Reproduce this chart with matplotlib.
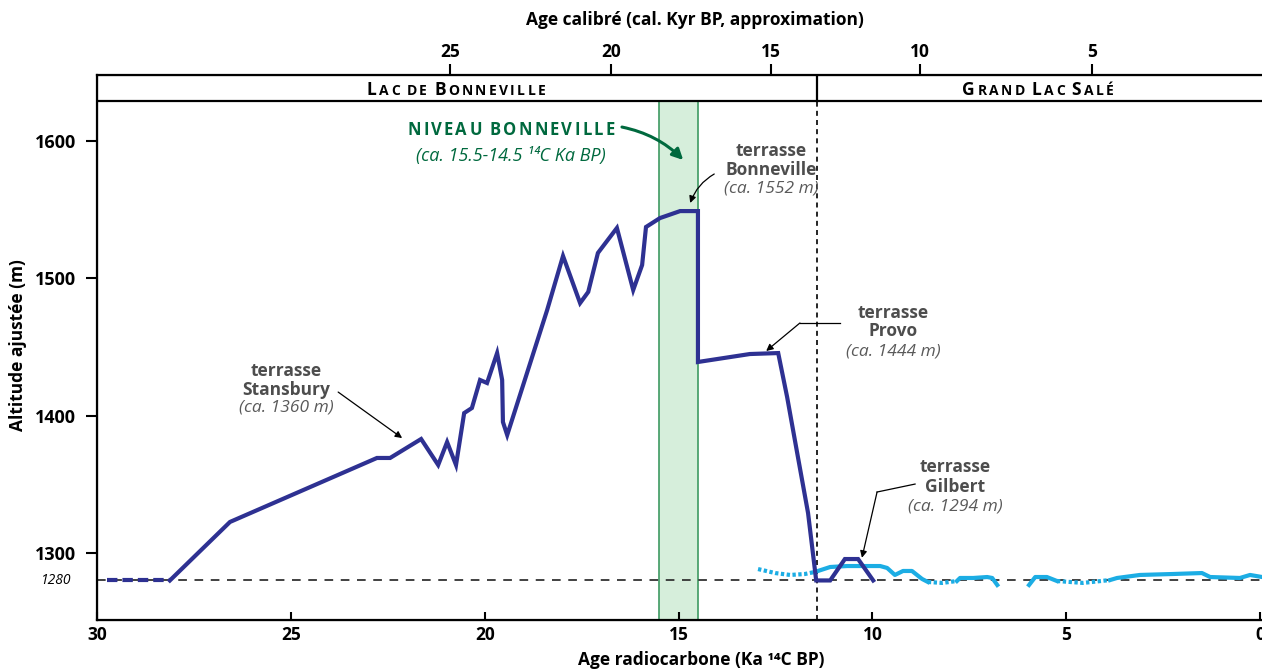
import matplotlib.pyplot as plt
from matplotlib import transforms
from matplotlib.patches import Rectangle

plt.rcParams['font.family'] = ['Open Sans', 'DejaVu Sans']

# Lake Bonneville hydrograph (ka 14C BP, adjusted altitude in m)
bonn_age = [28.12, 26.57, 22.78, 22.44, 21.64, 21.20, 20.97, 20.74, 20.53, 20.33,
            20.12, 19.94, 19.68, 19.55, 19.53, 19.42, 18.39, 17.98, 17.54, 17.33,
            17.08, 16.59, 16.17, 15.94, 15.84, 15.48, 14.96, 14.50, 14.50, 13.16,
            12.43, 12.20, 11.94, 11.66, 11.45, 11.09, 10.71, 10.37, 9.98]
bonn_alt = [1280, 1322.6, 1369.2, 1369.2, 1383.0, 1364.1, 1380.8, 1364.1, 1401.9, 1405.6,
            1426.0, 1423.8, 1445.6, 1426.0, 1395.4, 1385.9, 1476.9, 1516.3, 1482.0, 1490.1,
            1518.5, 1536.7, 1491.5, 1509.7, 1537.4, 1543.9, 1549.0, 1549.0, 1439.1, 1444.9,
            1445.6, 1413.6, 1372.8, 1329.1, 1280, 1280, 1295.6, 1295.6, 1280]
# uncertain early part
bonn_early_age = [29.74, 28.12]
bonn_early_alt = [1280, 1280]

# Great Salt Lake record: solid = documented, dotted = inferred
gsl_solid = [
    ([11.48, 11.09, 10.65, 9.80, 9.62, 9.42, 9.21, 8.98, 8.72, 8.57],
     [1286.2, 1289.8, 1290.5, 1290.5, 1289.1, 1284.0, 1286.9, 1286.9, 1281.1, 1278.9]),
    ([7.82, 7.74, 7.40, 7.04, 6.91, 6.78],
     [1279.6, 1281.8, 1281.8, 1282.5, 1281.8, 1276.7]),
    ([5.96, 5.80, 5.50, 5.24],
     [1276.7, 1282.5, 1282.5, 1279.6]),
    ([3.87, 3.69, 3.10, 2.25, 1.50, 1.29, 0.52, 0.26, -0.05],
     [1280.3, 1281.8, 1284.0, 1284.7, 1285.4, 1282.5, 1281.8, 1284.0, 1282.5]),
]
gsl_dotted = [
    ([12.95, 12.51, 12.12, 11.74, 11.48], [1288.3, 1285.4, 1284.0, 1284.7, 1286.2]),
    ([8.57, 8.20, 7.82], [1278.9, 1278.2, 1279.6]),
    ([5.24, 4.57, 3.87], [1279.6, 1278.2, 1280.3]),
]

bonneville_level = (15.5, 14.5)
transition_age = 11.43
threshold_alt = 1280

# calibrated ages (top axis) placed at their radiocarbon equivalents
cal_tick_pos = [20.89, 16.74, 12.61, 8.77, 4.33]
cal_tick_labels = ['25', '20', '15', '10', '5']

x_ticks = [30, 25, 20, 15, 10, 5, 0]
y_ticks = [1300, 1400, 1500, 1600]
y_min, y_max = 1251.2, 1648.1
header_alt = 1629.1

NAVY = '#2E3192'
CYAN = '#1CADE4'
GREEN = '#00693E'
GREY = '#4D4D4D'

fig = plt.figure(figsize=(12.62, 6.71), dpi=100)
ax = fig.add_axes([97 / 1262, 1 - 620 / 671, 1167 / 1262, 545 / 671])
ax.set_xlim(30, -0.1)
ax.set_ylim(y_min, y_max)


def tracked_text(ax, x, y, runs, tracking=1.0, **kw):
    """Draw letter-spaced text from runs of (string, size), centred on x."""
    fig = ax.figure
    renderer = fig.canvas.get_renderer()
    gap = tracking * fig.dpi / 72
    items = []
    cursor = 0.0

    def width(s, size):
        t = ax.text(0, 0, s, fontsize=size, **kw)
        w = t.get_window_extent(renderer).width
        t.remove()
        return w

    for s, size in runs:
        for word_i, word in enumerate(s.split(' ')):
            if word_i > 0:
                cursor += size * 0.35 * fig.dpi / 72
            if not word:
                continue
            for i, ch in enumerate(word):
                off = cursor + (width(word[:i], size) if i else 0.0) + i * gap
                t = ax.text(x, y, ch, fontsize=size, ha='left', va='baseline', **kw)
                items.append((t, off))
            cursor += width(word, size) + len(word) * gap
    total = cursor - gap
    for t, off in items:
        t.set_transform(transforms.offset_copy(ax.transData, fig=fig,
                                               x=off - total / 2, y=0, units='dots'))


# green band for the Bonneville highstand
ax.add_patch(Rectangle((bonneville_level[1], y_min), bonneville_level[0] - bonneville_level[1],
                       header_alt - y_min, facecolor='#D6EEDB', edgecolor='#3E9A62',
                       lw=1.2, zorder=1))

# reference lines
ax.axhline(threshold_alt, color='#333333', lw=1.3, ls=(0, (4.8, 4.2)), zorder=2)
ax.plot([transition_age, transition_age], [y_min, header_alt], color='k', lw=1.2,
        ls=(0, (3, 2.5)), zorder=2)

# header band
ax.axhline(header_alt, color='k', lw=1.6, zorder=5)
ax.plot([transition_age, transition_age], [header_alt, y_max], color='k', lw=1.6, zorder=5)
tracked_text(ax, 20.74, 1633.8, [('L', 12.5), ('AC DE ', 10), ('B', 12.5), ('ONNEVILLE', 10)],
             tracking=1.7, fontweight='bold', color='k', zorder=6)
tracked_text(ax, 5.73, 1633.8, [('G', 12.5), ('RAND ', 10), ('L', 12.5), ('AC ', 10),
                                ('S', 12.5), ('ALÉ', 10)],
             tracking=1.7, fontweight='bold', color='k', zorder=6)

# lake curves
for a, h in gsl_dotted:
    ax.plot(a, h, color=CYAN, lw=3.0, ls=(0, (0.8, 0.6)), solid_capstyle='butt', zorder=3)
for a, h in gsl_solid:
    ax.plot(a, h, color=CYAN, lw=3.0, solid_joinstyle='round', zorder=3)
ax.plot(bonn_early_age, bonn_early_alt, color=NAVY, lw=3.0, ls=(0, (2.5, 1.2)), zorder=4)
ax.plot(bonn_age, bonn_alt, color=NAVY, lw=3.0, solid_joinstyle='miter', zorder=4)

# Bonneville level label
tracked_text(ax, 19.32, 1604.7, [('NIVEAU BONNEVILLE', 12)], tracking=1.6,
             fontweight='bold', color=GREEN)
ax.text(19.32, 1589.1, '(ca. 15.5-14.5 ¹⁴C Ka BP)', fontsize=13, style='italic',
        color=GREEN, ha='center', va='center')
ax.annotate('', xy=(14.88, 1586.2), xytext=(16.46, 1610.2),
            arrowprops=dict(arrowstyle='-|>', color=GREEN, lw=2.2, mutation_scale=16,
                            connectionstyle='arc3,rad=-0.15', shrinkA=0, shrinkB=0))

# terrace labels
terraces = [
    (25.12, [1432.5, 1418.7, 1405.6], 'Stansbury', '(ca. 1360 m)'),
    (12.61, [1592.7, 1578.9, 1565.1], 'Bonneville', '(ca. 1552 m)'),
    (9.47, [1474.8, 1461.7, 1447.1], 'Provo', '(ca. 1444 m)'),
    (7.87, [1362.6, 1348.1, 1333.5], 'Gilbert', '(ca. 1294 m)'),
]
for x, ys, name, alt in terraces:
    ax.text(x, ys[0], 'terrasse', fontsize=12.5, fontweight='bold', color=GREY, ha='center', va='center')
    ax.text(x, ys[1], name, fontsize=12.5, fontweight='bold', color=GREY, ha='center', va='center')
    ax.text(x, ys[2], alt, fontsize=12.5, style='italic', color='#5A5A5A', ha='center', va='center')

arrow_kw = dict(arrowstyle='-|>', color='k', lw=0.9, mutation_scale=10, shrinkA=0, shrinkB=0)
ax.annotate('', xy=(22.13, 1383.7), xytext=(23.78, 1417.2), arrowprops=arrow_kw)
ax.annotate('', xy=(14.70, 1554.9), xytext=(14.08, 1576.0),
            arrowprops=dict(arrow_kw, connectionstyle='angle3,angleA=30,angleB=70'))
ax.plot([10.83, 11.87], [1467.5, 1467.5], color='k', lw=0.9)
ax.annotate('', xy=(12.74, 1447.1), xytext=(11.87, 1467.5), arrowprops=arrow_kw)
ax.plot([8.90, 9.88], [1350.2, 1344.4], color='k', lw=0.9)
ax.annotate('', xy=(10.27, 1296.5), xytext=(9.88, 1344.4), arrowprops=arrow_kw)

# axes styling
for side in ['left', 'bottom', 'top', 'right']:
    ax.spines[side].set_linewidth(1.6)
ax.set_xticks(x_ticks)
ax.set_xticklabels([str(v) for v in x_ticks])
ax.set_yticks(y_ticks)
ax.tick_params(axis='x', direction='in', length=6, width=1.5, labelsize=12.5, pad=4)
ax.tick_params(axis='y', direction='out', length=8, width=1.5, labelsize=13, pad=7)
for lab in ax.get_xticklabels() + ax.get_yticklabels():
    lab.set_fontweight('bold')
ax.text(-0.022, threshold_alt, '1280', transform=ax.get_yaxis_transform(), fontsize=10,
        style='italic', ha='right', va='center')

top = ax.twiny()
top.set_xlim(ax.get_xlim())
top.set_xticks(cal_tick_pos)
top.set_xticklabels(cal_tick_labels, fontweight='bold')
top.tick_params(axis='x', direction='out', length=8, width=1.5, labelsize=12.5, pad=2)

fig.text(701 / 1262, 1 - 660 / 671, 'Age radiocarbone (Ka ¹⁴C BP)', fontsize=12.5,
         fontweight='bold', ha='center', va='center')
fig.text(695 / 1262, 1 - 20 / 671, 'Age calibré (cal. Kyr BP, approximation)', fontsize=12.5,
         fontweight='bold', ha='center', va='center')
fig.text(18 / 1262, 1 - 345 / 671, 'Altitude ajustée (m)', fontsize=12.5, fontweight='bold',
         rotation=90, ha='center', va='center')

fig.savefig('out.png', dpi=100)
